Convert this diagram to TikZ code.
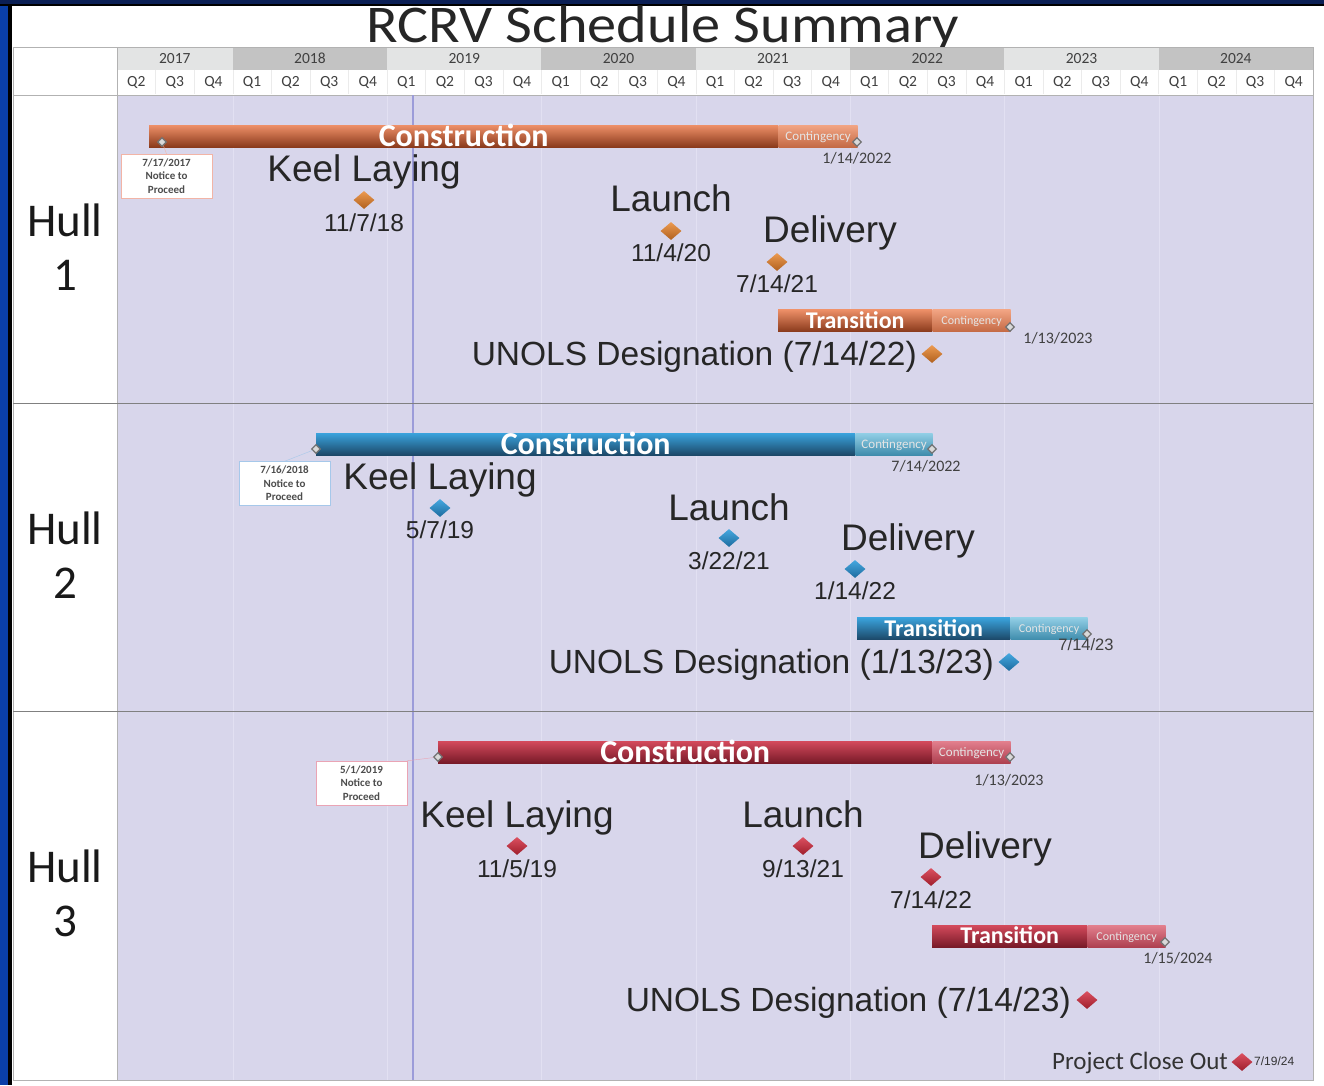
\documentclass[tikz,border=0pt]{standalone}
\usepackage{fontspec}
\setmainfont{Carlito}
\newfontfamily\arialfont{Liberation Sans}
\usetikzlibrary{shapes.geometric,positioning}

\definecolor{frameblue}{HTML}{0A3FA8}
\definecolor{framenavy}{HTML}{0B1F55}
\definecolor{chartbg}{HTML}{D8D6EB}
\definecolor{gridc}{HTML}{E2E0F2}
\definecolor{todayc}{HTML}{9C9CD9}
\definecolor{yearA}{HTML}{E3E4E4}
\definecolor{yearB}{HTML}{C3C3C3}
\definecolor{orT}{HTML}{EE9068}
\definecolor{orB}{HTML}{8A3A1C}
\definecolor{orcT}{HTML}{F2A584}
\definecolor{orcB}{HTML}{C46A45}
\definecolor{blT}{HTML}{3AA3DD}
\definecolor{blB}{HTML}{1C4868}
\definecolor{blcT}{HTML}{92CFE6}
\definecolor{blcB}{HTML}{3F8CAC}
\definecolor{rdT}{HTML}{D44A5C}
\definecolor{rdB}{HTML}{781A28}
\definecolor{rdcT}{HTML}{E3808E}
\definecolor{rdcB}{HTML}{AE4050}
\definecolor{dOrT}{HTML}{EC9A50}
\definecolor{dOrB}{HTML}{B0601E}
\definecolor{dBlT}{HTML}{45A8E0}
\definecolor{dBlB}{HTML}{1D6B9E}
\definecolor{dRdT}{HTML}{DC5060}
\definecolor{dRdB}{HTML}{9E1E2C}
\definecolor{ntpOr}{HTML}{F2B4A6}
\definecolor{ntpBl}{HTML}{A6C8EA}
\definecolor{ntpRd}{HTML}{EAA4B4}

\begin{document}
\begin{tikzpicture}[x=1pt,y=-1pt,
  bar/.style={inner sep=0pt,minimum height=22pt,text=white,text depth=0pt},
  conbar/.style={bar,anchor=west,font=\bfseries\fontsize{32}{32}\selectfont,text height=20.5pt},
  trbar/.style={bar,anchor=west,font=\bfseries\fontsize{24}{24}\selectfont,text height=15.5pt},
  ctgbar/.style={bar,font=\fontsize{13}{13}\selectfont,text height=8.4pt,text=white!90!black},
  ms/.style={diamond,inner sep=0pt,minimum width=21pt,minimum height=18pt},
  msOr/.style={ms,top color=dOrT,bottom color=dOrB},
  msBl/.style={ms,top color=dBlT,bottom color=dBlB},
  msRd/.style={ms,top color=dRdT,bottom color=dRdB},
  endmk/.style={diamond,draw=black!55,fill=white!85!black,line width=1.2pt,inner sep=0pt,minimum size=9pt},
  msname/.style={font=\arialfont\fontsize{37}{37}\selectfont,text=black!85,anchor=base,inner sep=0pt},
  msdate/.style={font=\arialfont\fontsize{24.5}{24.5}\selectfont,text=black!85,anchor=base,inner sep=0pt},
  unols/.style={font=\arialfont\fontsize{33.5}{33.5}\selectfont,text=black!85,anchor=base east,inner sep=0pt},
  bardate/.style={font=\fontsize{16}{16}\selectfont,text=black!75},
  ntp/.style={fill=white,minimum width=91pt,minimum height=44pt,inner sep=0pt,align=center,text=black!70,font=\bfseries\fontsize{11}{13.5}\selectfont},
  hull/.style={font=\fontsize{47}{54}\selectfont,align=center,text=black!90},
  hdr/.style={font=\fontsize{15.5}{15.5}\selectfont,text=black!75}]
\useasboundingbox (0,0) rectangle (1324,1085);
%frame
\fill[white] (0,0) rectangle (1324,1085);
\fill[frameblue] (0,0) rectangle (8,1085);
\fill[black] (8,0) rectangle (12,1085);
\fill[framenavy] (0,0) rectangle (1324,4);
\fill[black] (0,4) rectangle (1324,5.5);
%title
\node[font=\fontsize{53}{53}\selectfont,xscale=1.1,text=black!85,anchor=base,inner sep=0pt,text depth=0pt] (title) at (663,42) {RCRV Schedule Summary};
%years
\foreach \yr/\xa/\xb/\c in {2017/117/232.7/yearA,2018/232.7/387.1/yearB,2019/387.1/541.4/yearA,2020/541.4/695.7/yearB,
  2021/695.7/850.1/yearA,2022/850.1/1004.4/yearB,2023/1004.4/1158.7/yearA,2024/1158.7/1313/yearB}{
  \fill[\c] (\xa,47) rectangle (\xb,70);
  \node[hdr] (y\yr) at ({(\xa+\xb)/2},58.5) {\yr};
}
\fill[white] (13,47) rectangle (117,95);
\fill[white] (117,70) rectangle (1313,95);
%quarters
\foreach \i in {0,...,30}{
  \pgfmathtruncatemacro\qn{mod(\i+1,4)+1}
  \draw[black!8] ({117+\i*38.58},70) -- ++(0,24);
  \node[hdr] (q\i) at ({117+(\i+0.5)*38.58},82) {Q\qn};
}
%body
\fill[chartbg] (117,95) rectangle (1313,1080);
\foreach \x in {232.7,387.1,541.4,695.7,850.1,1004.4,1158.7}
  \draw[gridc] (\x,95) -- (\x,1080);
\draw[black!30] (13,95) -- (1313,95);
\draw[black!30] (117,47) -- (117,1080);
\draw[black!30] (13,47) rectangle (1313,1080);
\draw[todayc,line width=1.2pt] (413,95) -- (413,1080);
\draw[black!50,line width=1pt] (13,403) -- (1313,403);
\draw[black!50,line width=1pt] (13,711) -- (1313,711);

%hull 1
\node[hull] (hull1) at (65,247) {Hull\\1};
\node[ntp,draw=ntpOr] (ntp1) at (166.5,176) {7/17/2017\\Notice to\\Proceed};
\node[conbar,minimum width=629pt,top color=orT,bottom color=orB] (con1) at (149,136) {Construction};
\node[ctgbar,right=0pt of con1,minimum width=79pt,top color=orcT,bottom color=orcB] (ctg1) {Contingency};
\node[endmk] (s1) at (162,142) {};
\node[endmk] (e1) at (857,142) {};
\node[bardate] (d1) at (857,158) {1/14/2022};
\draw[ntpOr] (s1) -- (ntp1.north);
\node[msname] (kl1) at (364,181) {Keel Laying};
\node[msOr] (klm1) at (364,200) {};
\node[msdate] (kld1) at (364,231) {11/7/18};
\node[msname] (la1) at (671,211) {Launch};
\node[msOr] (lam1) at (671,231) {};
\node[msdate] (lad1) at (671,261) {11/4/20};
\node[msname] (de1) at (830,242) {Delivery};
\node[msOr] (dem1) at (777,262) {};
\node[msdate] (ded1) at (777,292) {7/14/21};
\node[trbar,minimum width=154pt,top color=orT,bottom color=orB] (tr1) at (778,320.5) {Transition};
\node[ctgbar,right=0pt of tr1,minimum width=78pt,top color=orcT,bottom color=orcB,font=\fontsize{12}{12}\selectfont] (tc1) {Contingency};
\node[endmk] (te1) at (1010,327) {};
\node[bardate] (td1) at (1058,338) {1/13/2023};
\node[msOr] (unm1) at (932,354) {};
\node[unols] (un1) at (917,365) {UNOLS Designation (7/14/22)};

%hull 2
\node[hull] (hull2) at (65,555) {Hull\\2};
\node[ntp,draw=ntpBl] (ntp2) at (284.5,483.5) {7/16/2018\\Notice to\\Proceed};
\node[conbar,minimum width=539pt,top color=blT,bottom color=blB] (con2) at (316,444) {Construction};
\node[ctgbar,right=0pt of con2,minimum width=77pt,top color=blcT,bottom color=blcB] (ctg2) {Contingency};
\node[endmk] (s2) at (316,449) {};
\node[endmk] (e2) at (932,449) {};
\node[bardate] (d2) at (926,466) {7/14/2022};
\draw[ntpBl] (s2) -- (ntp2.north);
\node[msname] (kl2) at (440,489) {Keel Laying};
\node[msBl] (klm2) at (440,508) {};
\node[msdate] (kld2) at (440,538) {5/7/19};
\node[msname] (la2) at (729,520) {Launch};
\node[msBl] (lam2) at (729,538) {};
\node[msdate] (lad2) at (729,569) {3/22/21};
\node[msname] (de2) at (908,550) {Delivery};
\node[msBl] (dem2) at (855,569) {};
\node[msdate] (ded2) at (855,599) {1/14/22};
\node[trbar,minimum width=153pt,top color=blT,bottom color=blB] (tr2) at (857,628.5) {Transition};
\node[ctgbar,right=0pt of tr2,minimum width=77pt,top color=blcT,bottom color=blcB,font=\fontsize{12}{12}\selectfont] (tc2) {Contingency};
\node[endmk] (te2) at (1087,634) {};
\node[font=\arialfont\fontsize{16.5}{16.5}\selectfont,text=black!75] (td2) at (1086,645) {7/14/23};
\node[msBl] (unm2) at (1009,662) {};
\node[unols] (un2) at (994,673) {UNOLS Designation (1/13/23)};

%hull 3
\node[hull] (hull3) at (65,893) {Hull\\3};
\node[ntp,draw=ntpRd] (ntp3) at (361.5,783) {5/1/2019\\Notice to\\Proceed};
\node[conbar,minimum width=494pt,top color=rdT,bottom color=rdB] (con3) at (438,752) {Construction};
\node[ctgbar,right=0pt of con3,minimum width=78pt,top color=rdcT,bottom color=rdcB] (ctg3) {Contingency};
\node[endmk] (s3) at (438,757) {};
\node[endmk] (e3) at (1010,757) {};
\node[bardate] (d3) at (1009,780) {1/13/2023};
\draw[ntpRd] (s3) -- (ntp3.north east);
\node[msname] (kl3) at (517,827) {Keel Laying};
\node[msRd] (klm3) at (517,846) {};
\node[msdate] (kld3) at (517,877) {11/5/19};
\node[msname] (la3) at (803,827) {Launch};
\node[msRd] (lam3) at (803,846) {};
\node[msdate] (lad3) at (803,877) {9/13/21};
\node[msname] (de3) at (985,858) {Delivery};
\node[msRd] (dem3) at (931,877) {};
\node[msdate] (ded3) at (931,908) {7/14/22};
\node[trbar,minimum width=155pt,top color=rdT,bottom color=rdB] (tr3) at (932,936) {Transition};
\node[ctgbar,right=0pt of tr3,minimum width=78pt,top color=rdcT,bottom color=rdcB,font=\fontsize{12}{12}\selectfont] (tc3) {Contingency};
\node[endmk] (te3) at (1165,942) {};
\node[bardate] (td3) at (1178,958) {1/15/2024};
\node[msRd] (unm3) at (1087,1000) {};
\node[unols] (un3) at (1071,1011) {UNOLS Designation (7/14/23)};

%close out
\node[font=\fontsize{25}{25}\selectfont,anchor=base east,inner sep=0pt,text=black!80] (pco) at (1228,1069) {Project Close Out};
\node[msRd] (pcom) at (1242,1062) {};
\node[font=\arialfont\fontsize{12}{12}\selectfont,anchor=west,inner sep=0pt,text=black!80] (pcod) at (1254,1061) {7/19/24};
\end{tikzpicture}
\end{document}
